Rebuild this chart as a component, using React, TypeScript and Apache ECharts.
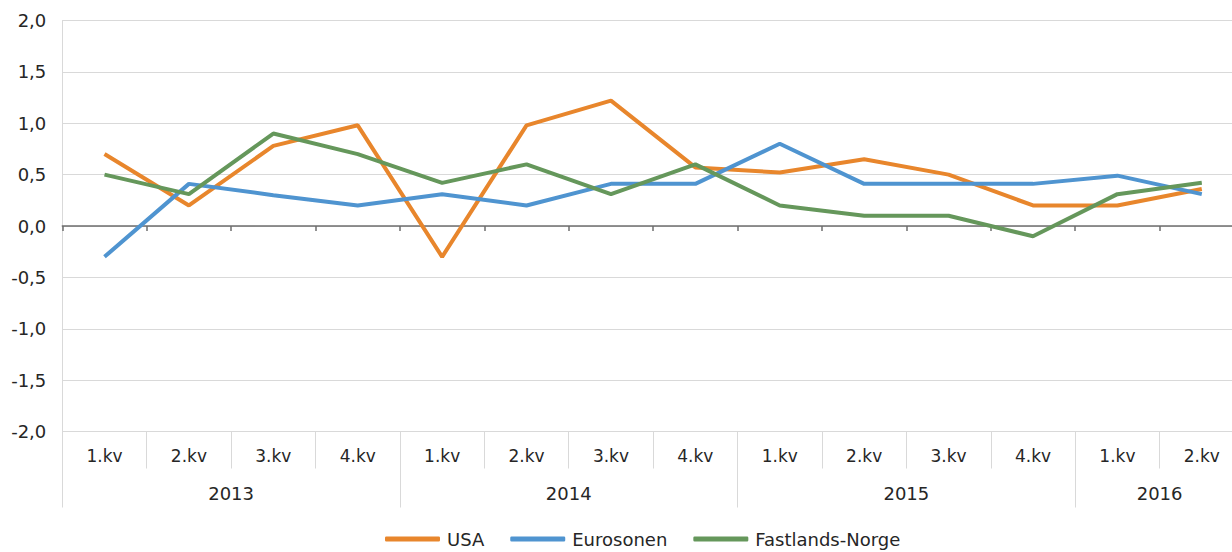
import React, { useEffect, useRef } from "react";
import * as echarts from "echarts";

const quarters = ["1.kv", "2.kv", "3.kv", "4.kv", "1.kv", "2.kv", "3.kv", "4.kv", "1.kv", "2.kv", "3.kv", "4.kv", "1.kv", "2.kv"];
const years = ["2013", "2014", "2015", "2016"];
const quartersPerYear = [4, 4, 4, 2];

const usa = [0.7, 0.2, 0.78, 0.98, -0.3, 0.98, 1.22, 0.57, 0.52, 0.65, 0.5, 0.2, 0.2, 0.36];
const eurosonen = [-0.3, 0.41, 0.3, 0.2, 0.31, 0.2, 0.41, 0.41, 0.8, 0.41, 0.41, 0.41, 0.49, 0.31];
const fastlandsNorge = [0.5, 0.31, 0.9, 0.7, 0.42, 0.6, 0.31, 0.6, 0.2, 0.1, 0.1, -0.1, 0.31, 0.42];

const seriesNames = ["USA", "Eurosonen", "Fastlands-Norge"];
const seriesColors = ["#E8862C", "#4F94D0", "#65975B"];

// Year axis built on half-quarter slots: boundaries at group edges, labels at group centres
const yearSlots: string[] = [];
const yearTickIdx: number[] = [];
(() => {
  const total = quartersPerYear.reduce((a, b) => a + b, 0) * 2;
  for (let i = 0; i <= total; i++) yearSlots.push("");
  let pos = 0;
  years.forEach((y, k) => {
    yearTickIdx.push(pos);
    yearSlots[pos + quartersPerYear[k]] = y;
    pos += quartersPerYear[k] * 2;
  });
  yearTickIdx.push(pos);
})();

const FONT = "DejaVu Sans";
const TXT = "#262626";
const GRID = "#D9D9D9";

export default function App() {
  const ref = useRef<HTMLDivElement>(null);
  useEffect(() => {
    if (!ref.current) return;
    const chart = echarts.init(ref.current, null, { renderer: "svg" });
    const data = [usa, eurosonen, fastlandsNorge];
    chart.setOption({
      animation: false,
      textStyle: { fontFamily: FONT },
      grid: { left: 62.3, right: 0, top: 20.5, bottom: 120.5 },
      legend: {
        left: 385,
        top: 530,
        padding: 0,
        itemWidth: 55,
        itemHeight: 5,
        itemGap: 26,
        icon: "roundRect",
        textStyle: { fontFamily: FONT, fontSize: 18, color: TXT, padding: [0, 0, 0, 2] },
        data: seriesNames,
      },
      xAxis: [
        {
          type: "category",
          data: quarters,
          boundaryGap: true,
          axisLine: { show: true, onZero: true, lineStyle: { color: "#6E6E6E", width: 1.5 } },
          axisTick: { show: true, length: 5, inside: false, lineStyle: { color: "#6E6E6E", width: 1.5 } },
          axisLabel: { show: false },
          splitLine: { show: false },
        },
        {
          type: "category",
          data: quarters,
          position: "bottom",
          boundaryGap: true,
          axisLine: { show: false, onZero: false },
          axisTick: { show: true, length: 37, lineStyle: { color: GRID, width: 1 } },
          axisLabel: { show: true, interval: 0, margin: 16, fontSize: 17, color: TXT, fontFamily: FONT },
          splitLine: { show: false },
        },
        {
          type: "category",
          data: yearSlots,
          position: "bottom",
          boundaryGap: false,
          axisLine: { show: false, onZero: false },
          axisTick: {
            show: true,
            length: 76,
            interval: (i: number) => yearTickIdx.includes(i),
            lineStyle: { color: GRID, width: 1 },
          },
          axisLabel: {
            show: true,
            interval: (_i: number, v: string) => v !== "",
            margin: 53,
            fontSize: 18,
            color: TXT,
            fontFamily: FONT,
          },
          splitLine: { show: false },
        },
      ],
      yAxis: {
        type: "value",
        min: -2,
        max: 2,
        interval: 0.5,
        axisLine: { show: true, lineStyle: { color: GRID, width: 1 } },
        axisTick: { show: false },
        axisLabel: {
          margin: 16,
          fontSize: 18,
          color: TXT,
          fontFamily: FONT,
          formatter: (v: number) => v.toFixed(1).replace(".", ","),
        },
        splitLine: { show: true, lineStyle: { color: GRID, width: 1 } },
      },
      series: seriesNames.map((name, k) => ({
        name,
        type: "line",
        xAxisIndex: 0,
        data: data[k],
        symbol: "none",
        color: seriesColors[k],
        lineStyle: { width: 4, color: seriesColors[k] },
      })),
    });
    return () => chart.dispose();
  }, []);
  return (
    <div style={{ position: "fixed", left: 0, top: 0, width: 1232, height: 552, background: "#fff", overflow: "hidden" }}>
      <div ref={ref} style={{ width: 1244, height: 552 }} />
    </div>
  );
}
